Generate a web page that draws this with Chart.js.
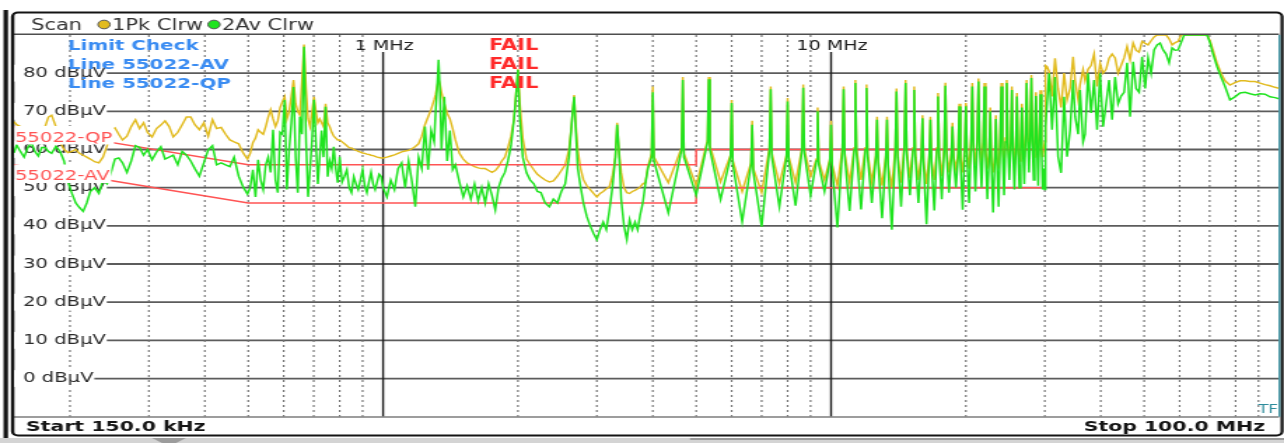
<!DOCTYPE html>
<html>
<head>
<meta charset="utf-8">
<script src="https://cdn.jsdelivr.net/npm/chart.js@4.4.1/dist/chart.umd.min.js"></script>
<style>
  html, body { margin: 0; padding: 0; background: #fff; overflow: hidden; }
  #wrap { width: 917px; height: 443px; transform: scaleX(1.40022); transform-origin: 0 0; }
  #c { display: block; }
</style>
</head>
<body>
<div id="wrap"><canvas id="c" width="917" height="443"></canvas></div>
<script>
// ---------- data (frequency in MHz, level in dBµV) ----------
const freqMHz = [
  // 150 kHz - 500 kHz
  0.150,0.152,0.155,0.158,0.161,0.164,0.167,0.170,0.173,0.176,
  0.179,0.182,0.186,0.190,0.194,0.198,0.202,0.206,0.210,0.214,
  0.218,0.222,0.227,0.232,0.237,0.242,0.247,0.252,0.257,0.262,
  0.268,0.274,0.280,0.286,0.292,0.298,0.305,0.312,0.319,0.326,
  0.333,0.340,0.348,0.356,0.364,0.372,0.380,0.389,0.398,0.407,
  0.416,0.425,0.435,0.445,0.455,0.465,0.476,0.487,0.498,
  // 500 kHz - 1 MHz
  0.505,0.512,0.519,0.526,0.533,0.540,0.547,0.554,0.561,0.568,
  0.575,0.582,0.589,0.596,0.603,0.610,0.617,0.624,0.631,0.638,
  0.645,0.652,0.659,0.666,0.673,0.680,0.687,0.694,0.701,0.708,
  0.715,0.722,0.729,0.736,0.744,0.752,0.760,0.768,0.776,0.784,
  0.792,0.800,0.810,0.820,0.830,0.840,0.850,0.860,0.870,0.880,
  0.890,0.900,0.910,0.920,0.930,0.940,0.950,0.960,0.970,0.980,
  0.990,1.000,
  // 1 MHz - 3.9 MHz
  1.02,1.04,1.06,1.08,1.10,1.12,1.14,1.16,1.18,1.20,
  1.22,1.24,1.26,1.28,1.30,1.31,1.32,1.33,1.34,1.35,
  1.37,1.39,1.41,1.43,1.45,1.48,1.51,1.54,1.57,1.60,
  1.63,1.66,1.69,1.72,1.75,1.78,1.81,1.84,1.87,1.90,
  1.93,1.96,1.98,2.00,2.02,2.05,2.09,2.13,2.17,2.21,
  2.25,2.30,2.35,2.40,2.45,2.50,2.55,2.60,2.63,2.65,
  2.67,2.69,2.72,2.76,2.80,2.85,2.90,2.95,3.00,3.05,
  3.10,3.15,3.20,3.25,3.30,3.33,3.36,3.40,3.45,3.50,
  3.55,3.60,3.65,3.70,3.75,3.80,3.85,3.90,
  // 4 MHz - 30 MHz (harmonics: shoulder, peak, shoulder, valley)
  3.976,4.000,4.024,4.333, 4.639,4.667,4.695,5.000,
  5.301,5.333,5.365,5.667, 5.964,6.000,6.036,6.333,
  6.627,6.667,6.707,7.000, 7.289,7.333,7.377,7.667,
  7.952,8.000,8.048,8.333, 8.615,8.667,8.719,9.000,
  9.277,9.333,9.389,9.667, 9.940,10.000,10.060,10.333,
  10.603,10.667,10.731,11.000, 11.265,11.333,11.401,11.667,
  11.928,12.000,12.072,12.333, 12.591,12.667,12.743,13.000,
  13.253,13.333,13.413,13.667, 13.916,14.000,14.084,14.333,
  14.579,14.667,14.755,15.000, 15.241,15.333,15.425,15.667,
  15.904,16.000,16.096,16.333, 16.567,16.667,16.767,17.000,
  17.229,17.333,17.437,17.667, 17.892,18.000,18.108,18.333,
  18.555,18.667,18.779,19.000, 19.217,19.333,19.449,19.667,
  19.880,20.000,20.120,20.333, 20.543,20.667,20.791,21.000,
  21.205,21.333,21.461,21.667, 21.868,22.000,22.132,22.333,
  22.531,22.667,22.803,23.000, 23.193,23.333,23.473,23.667,
  23.856,24.000,24.144,24.333, 24.519,24.667,24.815,25.000,
  25.181,25.333,25.485,25.667, 25.844,26.000,26.156,26.333,
  26.507,26.667,26.827,27.000, 27.169,27.333,27.497,27.667,
  27.832,28.000,28.168,28.333, 28.495,28.667,28.839,29.000,
  29.157,29.333,29.509,29.667, 29.820,30.000,
  // 30 MHz - 100 MHz
  30.11,30.35,30.66,31.14,31.62,32.12,32.62,33.13,33.64,34.16,
  34.70,35.06,35.61,35.97,36.52,36.90,37.47,38.05,38.65,39.25,
  39.86,40.48,41.11,41.75,42.40,43.06,43.73,44.41,45.10,45.80,
  46.51,47.24,47.97,48.71,49.47,50.24,51.02,51.81,52.62,53.44,
  54.27,55.11,55.97,56.84,57.72,58.62,59.53,60.46,61.40,64.94,
  69.07,70.14,71.24,72.72,74.23,75.77,77.70,79.73,81.85,83.98,
  86.15,88.41,90.70,93.06,95.48,97.96,100.0
];

// trace 1: peak detector, clear/write (yellow)
const peakDbuV = [
  67.3,66.5,66,65,64,63.5,64,63,64.5,66,
  68.5,69,66,62,60,59.2,59.5,60,59,58.5,
  58,57.5,56.8,56.5,58,61,65.2,65.7,64,62.5,
  63.5,66,67.8,65.5,67,64.5,63.3,65.5,66.4,67.5,
  66,63.3,64.5,66.5,68.5,68.5,66.5,65.2,67,63.5,
  67.8,65.5,65.8,64,62.5,62,61.5,59.1,57.5,

  59,61.8,63,65.2,64.5,64,66,68.5,70.4,68,
  66,67.5,71,72.5,73.8,68,70,74,78.2,72,
  70,69,78,87.5,76,68,66,70,73.8,70,
  67,68,67,66,72,67,66,64.5,63.5,63,
  62.5,62.5,62,61.5,61,60.5,60.4,60,59.8,59.5,
  59.3,59.1,59,58.8,58.7,58.5,58.4,58.2,58,57.9,
  57.8,57.8,

  58,58.3,58.6,59,59.4,59.6,59.8,60.2,60.8,61.5,
  63.5,66.5,68.5,70.5,73,74.5,76.5,78.2,77,75,
  72,69.5,68,65.5,62.5,59,57.5,56.5,56,55.5,
  55.2,55,55,54.5,54,54.5,55.5,57,58,60.5,
  63.5,68,74.5,81,72,63,57.5,56,54.7,53.5,
  52.8,52,51.5,51.8,53,54.5,56,60,65.5,70,
  74.3,67,60,55,52.1,50.5,49.5,48.5,47.6,48.5,
  49,49.7,50.2,53,58,67,60,54,50,48.7,
  48.5,49,49.3,49.7,50.2,51,51.3,55.5,

  59,76.5,58,51.3, 60.5,79,59,50.5,
  62.5,79,61,51.5, 58.5,73,57,49,
  56.5,67.5,55,48.7, 60.5,76.5,59,51,
  58.5,73.5,58,51.3, 60.5,77,60,52.9,
  57.5,71,57,52, 57.5,67.5,56,50.5,
  60.5,76.5,59,51.3, 60.5,78.2,60,52,
  60.5,77,59,51.5, 58.5,68.6,57,50.5,
  58.5,68.6,56,50, 60.5,76,59,51.3,
  61.5,78.2,60,52.5, 60.5,76.5,59,52,
  58.5,69,57,51, 58.5,68.6,57,52,
  60.5,74.8,59,53, 61,77.5,60,54,
  59,67,58,55, 59,72,58,54,
  61,72.2,59,55, 63,77.4,61,56,
  63,78.6,62,56, 62,77.4,60,55,
  59,71,57,54, 58,69,57,55,
  63,77.4,61,56, 63,78.2,62,57,
  62,76.5,60,56, 61,74.8,60,57,
  61,72,60,58, 64,78.2,63,59,
  64,79.5,62,58, 62,75,61,58,
  63,75.5,61,58, 60,62,

  82,81.7,80.5,73.9,83.9,76,71,80,73,76,
  84.3,78,73,77,80.9,78,81,82,85,76.5,
  82.6,80,81,83.9,85,84,80,82,84,87,
  83.5,87.9,86,85.5,88.3,87.8,87.4,88.5,89.5,90,
  90,90,90,89,87.4,88,88.3,90,90,90,
  90,88.5,86,82.6,80,78,76.9,77.5,78,78,
  77.8,77.8,77.4,77,76.7,76.3,76
];

// trace 2: average detector, clear/write (green)
const avgDbuV = [
  59.1,61.2,59.5,58,60.5,61.8,59.5,58.3,60.5,60.5,
  59.5,59,60.8,59.5,57,51.5,48.5,46,44.8,43.8,
  46,49,50,48.5,52,51,54,57.5,57.8,56.5,
  54,57,61,60.5,58.5,60,57.3,59.3,60.7,57.5,
  58,58.5,56,59.5,58.5,57,55,53,56.5,59.9,
  61,56,56.5,56,55.5,58,53,50.2,48.3,

  50,54.7,47.6,57.3,52,49.5,56,58,54,65.2,
  52,48.7,64.5,64,73,49.5,60,66.9,76.4,58,
  48.7,68.6,64,86.9,62,47.6,55,62.5,73,62,
  51,58,65,58,71.2,52.9,57,55,60.7,55,
  51.3,58.1,51.5,53,54.7,50,48.7,52.9,51,49.5,
  52,54.7,50.5,48.7,51.5,54,51,49.5,51.5,53.5,
  52.9,50,

  47.6,52,49.5,55,56.5,50,57,51.5,45,58,
  55,66,54.7,65,62,70,76,83.5,75,60,
  73.8,57,65,54.7,56,51.5,47.6,50.5,47,51,
  46.5,50,46,51,48,44.2,50,52.5,54,57,
  61,68,74,80.9,68,58,53.9,52,51,49,
  48.7,46,45,47,46,49,51,58,65.2,70,
  73.8,66,55,50.2,46,42.4,40,38,36.4,39,
  41,39,44,50,58,66.5,60,47,40,36.4,
  41.6,39,41,39,43,46,51,55,

  58,75,57,43.4, 60,78.2,58,48,
  62,78.4,60,46.9, 58,72.2,56,41.1,
  56,66.5,54,39.8, 60,75.8,58,45,
  58,72.6,57,45.3, 60,76.2,59,48,
  57,70,56,49, 57,66.5,55,39.6,
  60,75.8,58,43.9, 60,77.4,59,44.3,
  60,76.1,58,46, 58,67.8,56,42,
  58,67.8,55,39, 60,75.2,58,45,
  61,77.4,59,48, 60,75.6,58,46,
  58,68.2,56,40.4, 58,67.8,56,44,
  60,73.9,58,47, 60,76.7,59,48.7,
  58,66,57,50, 58,71.3,57,44.2,
  60,71.3,58,46, 62,76.5,60,49,
  62,77.8,61,50, 61,76.5,59,47,
  58,70,56,43.5, 57,68,56,45,
  62,76.5,60,48, 62,77.4,61,52,
  61,75.6,59,49.5, 60,73.9,59,50,
  60,71,59,51, 63,77.4,62,54,
  63,78.7,61,52, 61,74,60,50.5,
  62,74.5,60,49.5, 55,49.5,

  66,72.2,80,65.2,79,58.1,53.9,73.8,58.1,65,
  78.2,68.6,64,75.6,62,64,80,69.6,78.2,65.2,
  80,66,72,78.2,67.8,79,72,74,75,82.7,
  68.6,83,76,75,84.3,76,84,80,86.1,87.4,
  87.9,86.1,85,82.7,86.6,86,86.1,88,90,90,
  90,88,85,81.7,79,76.5,73,73.8,74.8,75,
  74.6,74.3,74.6,74.5,73.8,73.6,73.3
];

// EN 55022 limit lines
const qpLimitFreq = [0.15, 0.5, 5, 5, 30];
const qpLimitDb   = [66, 56, 56, 60, 60];
const avLimitFreq = [0.15, 0.5, 5, 5, 30];
const avLimitDb   = [56, 46, 46, 50, 50];

// axis / grid
const yMin = -10, yMax = 90, yStep = 10;
const yLabelMin = 0, yLabelMax = 80;
const xMinMHz = 0.15, xMaxMHz = 100;
const minorGridMHz = [0.2,0.3,0.4,0.5,0.6,0.7,0.8,0.9, 2,3,4,5,6,7,8,9, 20,30,40,50,60,70,80,90];
const majorGridMHz = [1, 10];
const majorLabels  = ['1 MHz', '10 MHz'];

// screen texts
const headerTitle = 'Scan';
const traceNames = ['1Pk Clrw', '2Av Clrw'];
const checkRows = ['Limit Check', 'Line 55022-AV', 'Line 55022-QP'];
const checkResults = ['FAIL', 'FAIL', 'FAIL'];
const limitNames = ['55022-QP', '55022-AV'];
const startText = 'Start 150.0 kHz';
const stopText = 'Stop 100.0 MHz';

// ---------- rendering ----------
const SX = 1284 / 917;             // horizontal stretch of the canvas
const cx = px => px / SX;          // screen x -> canvas x
const FONT = '"DejaVu Sans", Verdana, sans-serif';
const GREEN = '#1fe41f', YELLOW = '#e2bb1e', LIMIT_RED = '#ff5454';

const toPts = (fs, vs) => fs.map((f, i) => ({ x: f, y: vs[i] })).filter(p => p.y !== undefined);

function hline(ctx, x1, x2, y) { ctx.beginPath(); ctx.moveTo(x1, y); ctx.lineTo(x2, y); ctx.stroke(); }
function vline(ctx, x, y1, y2) { ctx.beginPath(); ctx.moveTo(x, y1); ctx.lineTo(x, y2); ctx.stroke(); }
function text(ctx, s, x, y, font, color, align) {
  ctx.font = font; ctx.fillStyle = color; ctx.textAlign = align || 'left'; ctx.textBaseline = 'alphabetic';
  ctx.fillText(s, x, y);
}

const screenPlugin = {
  id: 'analyzerScreen',
  beforeDraw(chart) {
    const { ctx, chartArea: ca, scales } = chart;
    const xs = scales.x, ys = scales.y;
    const W = chart.width;
    ctx.save();
    ctx.fillStyle = '#ffffff';
    ctx.fillRect(0, 0, W, chart.height);

    // bottom strip
    ctx.fillStyle = '#d4d4d4';
    ctx.fillRect(0, 438, W, 5);
    ctx.fillStyle = '#9c9c9c';
    ctx.beginPath(); ctx.moveTo(cx(152), 438); ctx.lineTo(cx(186), 438); ctx.lineTo(cx(176), 443); ctx.lineTo(cx(162), 443); ctx.closePath(); ctx.fill();
    ctx.beginPath(); ctx.moveTo(cx(690), 438); ctx.lineTo(cx(1284), 438); ctx.lineTo(cx(1284), 440); ctx.lineTo(cx(690), 440); ctx.closePath(); ctx.fill();

    // outer frame
    ctx.fillStyle = '#141414';
    ctx.fillRect(cx(3.5), 10, cx(4.5), 428);
    ctx.strokeStyle = '#141414';
    ctx.lineWidth = 2.2;
    ctx.beginPath();
    ctx.roundRect(cx(12.5), 12.5, cx(1282) - cx(12.5), 423, 4);
    ctx.stroke();

    // horizontal grid (from the y scale ticks)
    ctx.strokeStyle = '#5c5c5c';
    ctx.lineWidth = 1.8;
    ys.ticks.forEach(t => hline(ctx, ca.left, ca.right, ys.getPixelForValue(t.value)));

    // vertical dotted grid
    ctx.setLineDash([2, 3]);
    ctx.strokeStyle = '#717171';
    ctx.lineWidth = 1.15;
    minorGridMHz.forEach(f => vline(ctx, xs.getPixelForValue(f), ca.top, ca.bottom));
    ctx.setLineDash([]);

    // decade lines
    ctx.strokeStyle = '#1c1c1c';
    ctx.lineWidth = 1.4;
    majorGridMHz.forEach(f => vline(ctx, xs.getPixelForValue(f), ca.top + 17, ca.bottom));
    majorGridMHz.forEach((f, i) => text(ctx, majorLabels[i], xs.getPixelForValue(f) + 0.7, 50.3, '13.6px ' + FONT, '#222', 'center'));

    // separators
    ctx.strokeStyle = '#4e4e4e'; ctx.lineWidth = 1.6;
    hline(ctx, cx(13), ca.right, 34.3);
    ctx.strokeStyle = '#7c7c7c'; ctx.lineWidth = 1.6;
    hline(ctx, cx(13), ca.right, 417);
    ctx.strokeStyle = '#3f96a6'; ctx.lineWidth = 1.3;
    vline(ctx, ca.right + 0.3, ca.top, ca.bottom);
    ctx.strokeStyle = '#141414'; ctx.lineWidth = 1.2;
    vline(ctx, cx(13.5), 13, 435);
    ctx.restore();
  },
  afterDatasetsDraw(chart) {
    const { ctx } = chart;
    ctx.save();
    // limit line names
    const lblFont = '14px ' + FONT;
    ctx.font = lblFont;
    const nameTops = [126, 164.5], nameBase = [141.7, 180];
    limitNames.forEach((s, i) => {
      const w = ctx.measureText(s).width;
      ctx.fillStyle = '#ffffff';
      ctx.fillRect(cx(14.5), nameTops[i], w + 1.5, 18.5);
      text(ctx, s, cx(15), nameBase[i], lblFont, LIMIT_RED, 'left');
    });
    // limit check block
    const rowBase = [50, 69.3, 88.2];
    checkRows.forEach((s, i) => {
      text(ctx, s, cx(68), rowBase[i], 'bold 14.2px ' + FONT, '#3a8cf2', 'left');
      text(ctx, checkResults[i], cx(489), rowBase[i], 'bold 15px ' + FONT, '#ff2b2b', 'left');
    });
    ctx.restore();
  },
  afterDraw(chart) {
    const { ctx } = chart;
    ctx.save();
    // header line
    text(ctx, headerTitle, cx(31), 29.5, '15px ' + FONT, '#333', 'left');
    const dots = [[cx(104), YELLOW, cx(112)], [cx(214), GREEN, cx(222)]];
    dots.forEach((d, i) => {
      ctx.beginPath();
      ctx.arc(d[0], 24.5, 4.3, 0, Math.PI * 2);
      ctx.fillStyle = d[1]; ctx.fill();
      ctx.strokeStyle = '#555'; ctx.lineWidth = 1; ctx.stroke();
      text(ctx, traceNames[i], d[2], 29.5, '15px ' + FONT, '#333', 'left');
    });
    // footer
    text(ctx, startText, cx(26), 430.5, 'bold 14.6px ' + FONT, '#151515', 'left');
    text(ctx, stopText, cx(1265), 430.5, 'bold 14.6px ' + FONT, '#151515', 'right');
    text(ctx, 'TF', cx(1278), 413, '12px ' + FONT, '#2d8c9c', 'right');
    ctx.restore();
  }
};

new Chart(document.getElementById('c'), {
  type: 'line',
  data: {
    datasets: [
      { label: traceNames[1], data: toPts(freqMHz, avgDbuV), borderColor: GREEN, borderWidth: 1.5 },
      { label: limitNames[0], data: toPts(qpLimitFreq, qpLimitDb), borderColor: LIMIT_RED, borderWidth: 1.5 },
      { label: limitNames[1], data: toPts(avLimitFreq, avLimitDb), borderColor: LIMIT_RED, borderWidth: 1.5 },
      { label: traceNames[0], data: toPts(freqMHz, peakDbuV), borderColor: YELLOW, borderWidth: 1.45 }
    ]
  },
  options: {
    responsive: false,
    devicePixelRatio: 1,
    animation: false,
    events: [],
    layout: { padding: { left: cx(14), right: 917 - cx(1279), top: 35, bottom: 443 - 416.7 } },
    elements: { point: { radius: 0 }, line: { tension: 0, fill: false } },
    plugins: { legend: { display: false }, tooltip: { enabled: false } },
    scales: {
      x: { type: 'logarithmic', min: xMinMHz, max: xMaxMHz, display: false },
      y: {
        type: 'linear', min: yMin, max: yMax,
        grid: { display: false, drawTicks: false },
        border: { display: false },
        afterBuildTicks: s => { s.ticks = s.ticks.filter(t => t.value >= yLabelMin && t.value <= yLabelMax); },
        afterFit: s => { s.width = 0; },
        ticks: {
          stepSize: yStep,
          mirror: true,
          padding: cx(23) - cx(14),
          color: '#2c2c2c',
          font: { family: FONT, size: 14 },
          showLabelBackdrop: true,
          backdropColor: '#ffffff',
          backdropPadding: { left: cx(23) - cx(14), right: 0.6, top: 0, bottom: 0 },
          callback: v => v + ' dBµV'
        }
      }
    }
  },
  plugins: [screenPlugin]
});
</script>
</body>
</html>
